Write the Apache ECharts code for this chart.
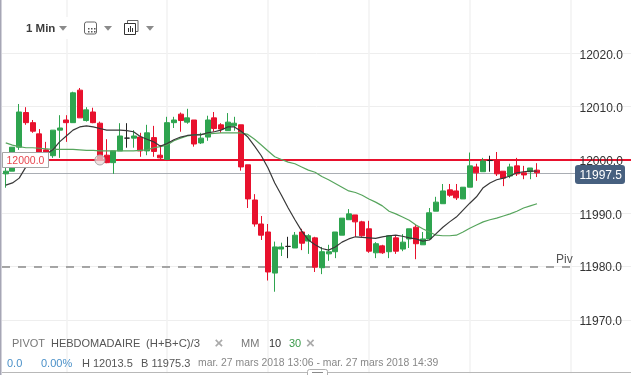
<!DOCTYPE html>
<html><head><meta charset="utf-8">
<style>html,body{margin:0;padding:0;background:#fff}#c{width:631px;height:375px}</style>
<script src="https://cdn.jsdelivr.net/npm/echarts@6/dist/echarts.min.js"></script>
</head><body><div id="c"></div>
<script>
// [open, close, low, high]
const candles = [
[11997.4,11997.9,11994.8,11998.5],[11997.9,12002.4,11997.9,12002.4],[12002.4,12009,12001.9,12010.5],[12008.9,12007,12006.6,12009.9],
[12007,12005.4,12005.1,12007.5],[12004.9,12001.5,12001,12005.8],[12001.9,12000,12000,12003.4],[12000.8,12005.6,12000.4,12005.6],
[12005.6,12006,12000.4,12008.4],[12007.5,12007,12003.4,12008.4],[12007,12012.6,12007,12012.8],[12013.1,12007.9,12007.9,12013.5],
[12007.4,12009.4,12007.2,12009.9],[12009,12007,12006.9,12009.8],[12006.9,12000,12000,12007.2],[12000.9,11999.5,11999.4,12003.9],
[11999.5,12001.7,11997.4,12001.7],[12001.7,12004.5,12001.7,12006.9],[12004.1,12004.1,12002.3,12006.9],[12004.1,12004.5,12002.3,12005.6],
[12004.3,12001.7,12000.6,12005.1],[12001.7,12005.1,12000.9,12006.6],[12004.2,12001.6,12000.6,12006.4],[12000.9,12000.4,12000.2,12002.8],
[12000.1,12007,12000.1,12008.1],[12007,12007.5,12006,12008.1],[12008.6,12007.4,12005.3,12008.9],[12007.1,12007.9,12006.8,12009.6],
[12007.5,12003,12002.5,12007.5],[12003.2,12004.1,12003,12005.1],[12004.3,12007.5,12003.6,12008.3],[12007.9,12005.9,12005.3,12009],
[12006.6,12005.8,12005.1,12006.9],[12005.5,12007.1,12005.5,12008.8],[12006.4,12006.9,12005.5,12008.1],[12006.6,11998.7,11998,12006.6],
[11999.1,11992.7,11991,11999.1],[11992.5,11988,11987.5,11993.6],[11988,11985.9,11985,11989.5],[11986.5,11979,11977.4,11988],
[11978.8,11983.7,11975.3,11984.7],[11983.3,11983.7,11982,11984.5],[11983.8,11983.8,11981.6,11985.6],[11983.5,11985.9,11983.5,11986.5],
[11986.5,11984.4,11983.1,11987.1],[11984.8,11985.8,11982.4,11986.1],[11985.4,11979.9,11979,11985.6],[11979.8,11982.8,11978.6,11983.7],
[11982.4,11982.8,11981.1,11984.1],[11982.8,11986.5,11981.6,11986.5],[11985.9,11989.1,11985.9,11989.1],[11988.8,11989.9,11988.8,11990.8],
[11989.7,11988.4,11985.6,11989.7],[11988.4,11985.8,11985.6,11988.6],[11987.1,11982.9,11982.6,11988.6],[11982.6,11984.3,11981.6,11984.6],
[11983.9,11982.6,11982.4,11984.1],[11982.8,11985.8,11981.6,11985.9],[11985.4,11982.9,11982.4,11985.9],[11983.3,11984.6,11982.9,11986.1],
[11985.2,11987.1,11983.5,11987.1],[11987.4,11984.3,11981.4,11987.8],[11984.1,11985.2,11984.1,11986.5],[11985.2,11990.1,11985.2,11991],
[11990.4,11992.1,11990.4,11993.1],[11991.8,11994.2,11991.8,11995.5],[11994.4,11993.4,11993.1,11995.5],[11994.2,11992.9,11992.5,11995.5],
[11992.7,11994.9,11992.7,11994.9],[11994.9,11998.9,11994.9,12001.4],[11998.7,11997.6,11996.1,11999.3],[11997.8,11999.8,11997.8,12000.4],
[11999.9,11999.9,11997.8,12000.8],[12000,11997.4,11997,12001.5],[11997.9,11996.6,11995.1,11997.9],[11997,11998.7,11996.6,11999.3],
[11998.9,11997.4,11997,12000.4],[11997.6,11997.2,11996.4,11998.9],[11997.8,11998.5,11996.4,11998.5],[11998.1,11997.6,11996.8,11999.4]
];
const ma10 = [11995.3,11995.7,11996.6,11998.7,11999.4,12000.4,12001.1,12001.9,12003.4,12004.5,12005.6,12006.2,12006.4,12006.2,12005.9,12005.6,12005.6,12005.6,12005.5,12005.3,
12004.4,12003.9,12003.4,12002.6,12003.1,12003.8,12004.3,12004.6,12004.7,12004.7,12005.1,12005.3,12005.6,12006.2,12006.2,12005.4,12004.3,12002.6,12000.8,11998.5,
11995.7,11993.4,11991,11988.8,11986.7,11985,11984.1,11983.4,11983.1,11983.7,11984.6,11985.2,11985.6,11985.5,11985.4,11985.3,11985.6,11985.8,11985.9,11985.7,
11985.4,11985.2,11984.8,11985,11986.2,11987.4,11988.4,11989.3,11990.6,11991.9,11993.1,11994.8,11995.7,11996.3,11996.6,11997,11997.6,11997.8,11997.9,11997.9];
const ma30 = [12003.2,12002.8,12002.5,12002.3,12002.3,12002.2,12002.1,12002,12002,12002,12002,12001.9,12001.8,12001.8,12001.7,12001.7,12001.7,12001.7,12001.7,12001.7,
12001.8,12001.9,12002.3,12002.5,12002.8,12003.6,12004.1,12004.5,12004.7,12004.8,12004.9,12005,12005.1,12005.1,12005.1,12005.1,12004.8,12003.9,12002.8,12001.7,
12000.6,12000.1,11999.6,11999.3,11998.7,11998.1,11997.7,11996.9,11996.3,11995.6,11994.9,11994.2,11993.9,11993.4,11992.7,11992.1,11991.4,11990.4,11989.9,11989.3,
11988.7,11987.8,11987.1,11986.5,11985.9,11985.8,11985.8,11985.9,11986.5,11987.2,11987.8,11988.4,11988.8,11989.1,11989.5,11989.9,11990.4,11991,11991.4,11991.8];
const totalSlots = 93;
const verticalGridSlots = [9,24,39,54,69,84];
const yTicks = [12020,12010,12000,11990,11980,11970];
const targetLevel = 12000, lastPrice = 11997.5, pivotLevel = 11980;
const yMin = 11960, yMax = 12030, yStep = 10;
const fontName = '"Liberation Sans", Arial, sans-serif';

const categories = Array.from({length: totalSlots}, (_, i) => String(i));
const up = '#2ea44f', down = '#e8112d';
const candleData = candles.map(c => c[0] === c[1]
  ? {value: c, itemStyle: {color: '#222', color0: '#222', borderColor: '#222', borderColor0: '#222'}}
  : c);
function txt(x, y, text, size, fill, extra) {
  return {type: 'text', x, y, silent: true, z: 30, style: Object.assign({text, fontSize: size, fill, fontFamily: fontName, textVerticalAlign: 'middle'}, extra || {})};
}
function box(x, y, w, h, fill, z) {
  return {type: 'rect', silent: true, z: z || 32, shape: {x, y, width: w, height: h}, style: {fill}};
}
function tri(x) {
  return {type: 'polygon', silent: true, z: 30, shape: {points: [[x, 26], [x + 8, 26], [x + 4, 30.7]]}, style: {fill: '#8b8b8b'}};
}
const calendarDots = [];
[[88,28],[91,28],[94,28],[88,31],[91,31],[94,31]].forEach(p => calendarDots.push(box(p[0], p[1], 1.5, 1.5, '#555')));
const chart = echarts.init(document.getElementById('c'), null, {renderer: 'canvas'});
chart.setOption({
  animation: false,
  backgroundColor: '#fff',
  grid: {left: 2.4, top: 0, right: 3.2, bottom: 1.67, containLabel: false},
  xAxis: {type: 'category', data: categories, boundaryGap: true,
    axisLine: {show: false}, axisTick: {show: false}, axisLabel: {show: false}, splitLine: {show: false}},
  yAxis: {type: 'value', position: 'left', min: yMin, max: yMax, interval: yStep,
    axisLine: {show: false}, axisTick: {show: false}, axisLabel: {show: false},
    splitLine: {show: false}},
  series: [
    {type: 'candlestick', data: candleData, barWidth: 5.5, z: 3,
      itemStyle: {color: up, color0: down, borderColor: up, borderColor0: down, borderWidth: 1},
      markLine: {silent: true, symbol: 'none', animation: false, z: 1, label: {show: false},
        data: [
          ...yTicks.map(t => [{coord: [0, t], x: 2, lineStyle: {color: '#eeeeee', width: 1, type: 'solid'}}, {coord: [85, t], x: 631}]),
          ...verticalGridSlots.map(s => ({xAxis: s, lineStyle: {color: '#f2f2f2', width: 1.5, type: 'solid'}})),
          [{coord: [0, lastPrice], x: 2, lineStyle: {color: '#a9adb3', width: 1, type: 'solid'}}, {coord: [85, lastPrice], x: 576}],
          [{coord: [0, pivotLevel], x: 2, lineStyle: {color: '#8a8a8a', width: 1.5, type: [8, 8]}}, {coord: [85, pivotLevel], x: 577}],
          [{coord: [0, targetLevel], x: 2, lineStyle: {color: down, width: 2, type: 'solid'}}, {coord: [85, targetLevel], x: 631}]
        ]},
      markPoint: {silent: true, animation: false, symbol: 'circle', symbolSize: 10,
        itemStyle: {color: 'rgba(235,215,215,0.75)', borderColor: '#a9a9a9', borderWidth: 1},
        label: {show: false}, data: [{coord: [14, targetLevel]}]}
    },
    {type: 'line', data: ma30, z: 4, showSymbol: false, symbol: 'none', smooth: false, lineStyle: {color: '#57a55d', width: 1.2}},
    {type: 'line', data: ma10, z: 4, showSymbol: false, symbol: 'none', smooth: false, lineStyle: {color: '#383838', width: 1.2}}
  ],
  graphic: {elements: [
    box(0, 0, 1.5, 375, '#a6a6b5', 20),
    box(22, 17, 140, 22, '#fff', 20),
    box(2, 372, 629, 1, '#b8b8b8', 20),
    txt(26, 28.5, '1 Min', 11.5, '#3c3c3c', {fontWeight: 'bold'}),
    tri(59),
    {type: 'rect', silent: true, z: 30, shape: {x: 84.5, y: 22, width: 12, height: 12, r: 2}, style: {fill: '#fff', stroke: '#666', lineWidth: 1}},
    ...calendarDots,
    tri(104),
    {type: 'rect', silent: true, z: 30, shape: {x: 127.5, y: 20.5, width: 10.5, height: 11}, style: {fill: 'none', stroke: '#666', lineWidth: 1}},
    {type: 'rect', silent: true, z: 31, shape: {x: 124.5, y: 23.5, width: 11, height: 11}, style: {fill: '#fff', stroke: '#333', lineWidth: 1}},
    box(128, 28, 1, 4, '#333'),
    box(130, 26, 1, 6, '#333'),
    box(132, 28, 1, 4, '#333'),
    tri(146),
    txt(579.5, 56, '12020.0', 12, '#333'),
    txt(579.5, 109, '12010.0', 12, '#333'),
    txt(579.5, 162, '12000.0', 12, '#333'),
    txt(579.5, 215.5, '11990.0', 12, '#333'),
    txt(579.5, 268, '11980.0', 12, '#333'),
    txt(579.5, 321.5, '11970.0', 12, '#333'),
    txt(556, 260, 'Piv', 12, '#555'),
    {type: 'rect', silent: true, z: 29, shape: {x: 2.5, y: 152.5, width: 46, height: 15}, style: {fill: '#fff', stroke: '#a5a5a5', lineWidth: 1}},
    txt(6.5, 161, '12000.0', 10.5, '#e8474f'),
    {type: 'rect', silent: true, z: 29, shape: {x: 575, y: 165, width: 50, height: 19, r: 3}, style: {fill: '#47607f'}},
    txt(579.5, 175.5, '11997.5', 12, '#ffffff'),
    txt(12, 344, 'PIVOT', 11, '#777'),
    txt(51, 344, 'HEBDOMADAIRE', 11, '#555'),
    txt(146, 344, '(H+B+C)/3', 11.3, '#555'),
    txt(214.5, 344, '×', 15, '#aaa', {fontWeight: 'bold'}),
    txt(241, 344, 'MM', 11, '#777'),
    txt(269, 344, '10', 11, '#333'),
    txt(289, 344, '30', 11, '#3a9a4a'),
    txt(306, 344, '×', 15, '#aaa', {fontWeight: 'bold'}),
    txt(7, 363.5, '0.0', 11, '#4a90c8'),
    txt(41, 363.5, '0.00%', 11, '#4a90c8'),
    txt(82, 363.5, 'H 12013.5', 11, '#555'),
    txt(141, 363.5, 'B 11975.3', 11, '#555'),
    txt(198, 363.5, 'mar. 27 mars 2018 13:06 - mar. 27 mars 2018 14:39', 10.4, '#888'),
    {type: 'rect', silent: true, z: 30, shape: {x: 307.5, y: 369.5, width: 20, height: 10, r: 2}, style: {fill: '#fff', stroke: '#b0b0b0', lineWidth: 1}},
    box(312, 372, 11, 1, '#8a8a8a', 31)
  ]}
});
</script></body></html>
